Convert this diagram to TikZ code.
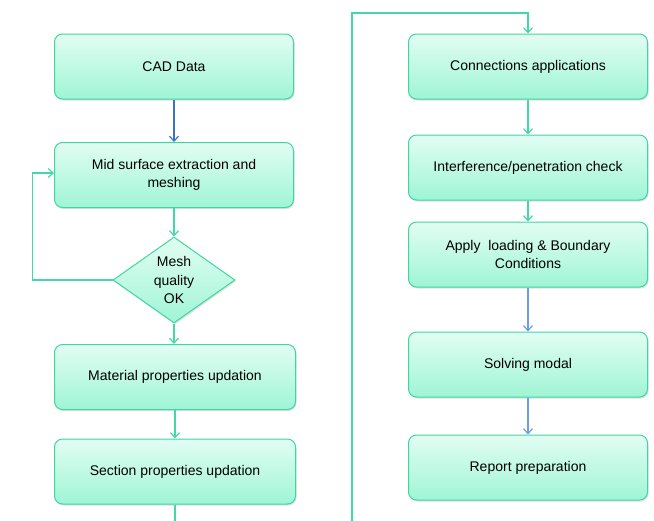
\documentclass[tikz,border=0pt]{standalone}
\usepackage{fontspec}
\setmainfont{Liberation Sans}
\usetikzlibrary{positioning,arrows.meta,shapes.geometric,shadows}

\definecolor{boxtop}{HTML}{E2FDF3}
\definecolor{boxbot}{HTML}{9FF5D6}
\definecolor{boxline}{HTML}{3FD6A2}
\definecolor{flowgreen}{HTML}{44D8A8}
\definecolor{flowblue}{HTML}{3A72C8}
\definecolor{flowlblue}{HTML}{6F9EE0}

\begin{document}
\begin{tikzpicture}[x=1pt, y=-1pt,
  st/.style={draw=boxline, line width=1pt, rectangle, rounded corners=8pt,
             top color=boxtop, bottom color=boxbot,
             minimum width=239pt, minimum height=65pt,
             align=center, font=\fontsize{14}{18.5}\selectfont,
             drop shadow={shadow xshift=1pt, shadow yshift=-1.5pt, opacity=0.25}},
  sdec/.style={st, diamond, rounded corners=0pt, aspect=1.42, inner sep=0pt,
               minimum width=122pt, minimum height=86pt},
  arr/.style={-{Straight Barb[length=5pt,width=9pt]}, line width=1.2pt, draw=flowgreen},
  barr/.style={arr, draw=flowblue},
  lbarr/.style={arr, draw=flowlblue},
  ln/.style={line width=1.2pt, draw=flowgreen}
]
\useasboundingbox (0,0) rectangle (654,520);

%% ── nodes ───────────────────────────────────────────────────────────────
% Pre-processing (left)
\node[st]   (cad) at (174,  66.5) {CAD Data};
\node[st]   (mid) at (174, 175)   {Mid surface extraction and\\ meshing};
\node[sdec] (chk) at (174, 280)   {Mesh\\ quality\\ OK};
\node[st, minimum width=241pt] (mat) at (175, 377)   {Material properties updation};
\node[st, minimum width=241pt] (sec) at (175, 471.5) {Section properties updation};

% Analysis (right)
\node[st]   (con)  at (528,  66.5) {Connections applications};
\node[st]   (intf) at (528, 167.5) {Interference/penetration check};
\node[st]   (app)  at (528, 254.5) {Apply\ \ loading \& Boundary\\ Conditions};
\node[st]   (sol)  at (528, 364.5) {Solving modal};
\node[st]   (rep)  at (528, 467.5) {Report preparation};

% route between the columns
\coordinate (botL) at (175, 521);
\coordinate (botR) at (352, 521);
\coordinate (topR) at (352, 13);

%% ── edges ───────────────────────────────────────────────────────────────
\draw[barr] (cad) -- (mid);
\draw[arr]  (mid) -- (chk);
\draw[arr]  (chk.south) -- (mat.north -| chk.south);
\draw[arr]  (mat) -- (sec);

% mesh rejected: back to meshing
\draw[arr] (chk.west) -- ++(-80,0) |- ([yshift=2pt]mid.west);

% left column runs on into the right one
\draw[ln]  (sec) -- (botL);
\draw[arr] (botR) -- (topR) -| (con.north);

\draw[arr]   (con)  -- (intf);
\draw[arr]   (intf) -- (app);
\draw[lbarr] (app)  -- (sol);
\draw[lbarr] (sol)  -- (rep);

\end{tikzpicture}
\end{document}
